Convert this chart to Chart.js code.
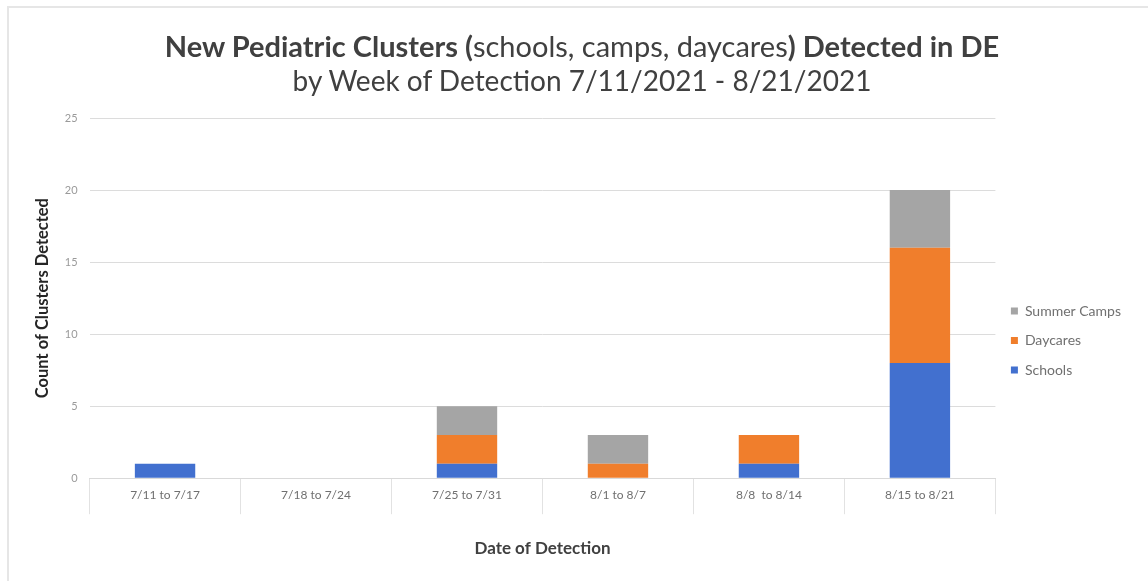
<!DOCTYPE html>
<html>
<head>
<meta charset="utf-8">
<script src="https://cdn.jsdelivr.net/npm/chart.js@4"></script>
<style>
    html, body { margin: 0; padding: 0; background: #fff; }
    #wrap { position: relative; width: 1148px; height: 581px; overflow: hidden; }
    #frame { position: absolute; left: 7px; top: 6px; width: 1150px; height: 600px; border: 2px solid #e6e6e6; box-sizing: border-box; }
    #title { position: absolute; left: 8px; top: 29px; width: 1148px; text-align: center; font-family: Lato, sans-serif; color: #404040; line-height: 34px; }
    #title .l1 { font-size: 29px; }
    #title .l2 { font-size: 28px; }
    #title b { font-weight: 700; }
    #chartBox { position: absolute; left: 0; top: 0; width: 1148px; height: 581px; }
</style>
</head>
<body>
<div id="wrap">
    <div id="frame"></div>
    <div id="chartBox"><canvas id="clusterChart"></canvas></div>
    <div id="title"><div class="l1"><b>New Pediatric Clusters (</b>schools, camps, daycares<b>) Detected in DE</b></div><div class="l2">by Week of Detection 7/11/2021 - 8/21/2021</div></div>
</div>
<script>
// weekly buckets
const weeks = ['7/11 to 7/17', '7/18 to 7/24', '7/25 to 7/31', '8/1 to 8/7', '8/8  to 8/14', '8/15 to 8/21'];

// clusters per week, by setting
const schools = [1, 0, 1, 0, 1, 8];
const daycares = [0, 0, 2, 1, 2, 8];
const summerCamps = [0, 0, 2, 2, 0, 4];

const yTicks = [0, 5, 10, 15, 20, 25];

const ctx = document.getElementById('clusterChart').getContext('2d');

new Chart(ctx, {
    type: 'bar',
    data: {
        labels: weeks,
        datasets: [
            { label: 'Schools', data: schools, backgroundColor: '#4270cf' },
            { label: 'Daycares', data: daycares, backgroundColor: '#f07e2c' },
            { label: 'Summer Camps', data: summerCamps, backgroundColor: '#a5a5a5' }
        ]
    },
    options: {
        responsive: true,
        maintainAspectRatio: false,
        animation: false,
        datasets: {
            bar: { categoryPercentage: 1, barPercentage: 0.4, borderWidth: 0 }
        },
        layout: { padding: { top: 118, left: 29, right: 17, bottom: 18 } },
        plugins: {
            tooltip: { enabled: false },
            legend: {
                position: 'right',
                reverse: true,
                labels: {
                    boxWidth: 7,
                    boxHeight: 7,
                    padding: 15.5,
                    color: '#707070',
                    font: { family: 'Lato, sans-serif', size: 14 }
                }
            }
        },
        scales: {
            x: {
                stacked: true,
                grid: {
                    offset: true,
                    drawOnChartArea: false,
                    tickLength: 36,
                    color: '#e2e2e2'
                },
                border: { color: '#d9d9d9' },
                ticks: {
                    color: '#707070',
                    padding: -26,
                    font: { family: 'Lato, sans-serif', size: 12 }
                },
                title: {
                    display: true,
                    text: 'Date of Detection',
                    color: '#404040',
                    padding: { top: 62 },
                    font: { family: 'Lato, sans-serif', size: 17, weight: 'bold' }
                }
            },
            y: {
                stacked: true,
                min: 0,
                max: 25,
                afterBuildTicks: axis => { axis.ticks = yTicks.map(v => ({ value: v })); },
                grid: { color: '#dcdcdc', drawTicks: false },
                border: { display: false },
                ticks: {
                    color: '#9a9a9a',
                    padding: 12,
                    font: { family: 'Lato, sans-serif', size: 11 }
                },
                title: {
                    display: true,
                    text: 'Count of Clusters Detected',
                    color: '#262626',
                    padding: { bottom: 0 },
                    font: { family: 'Lato, sans-serif', size: 16.5, weight: 'bold' }
                }
            }
        }
    }
});
</script>
</body>
</html>
